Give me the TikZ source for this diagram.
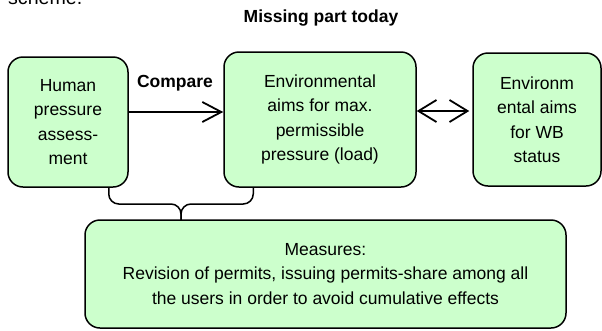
\documentclass[tikz,border=0pt]{standalone}
\usepackage{fontspec}
\setmainfont{Liberation Sans}
\usetikzlibrary{arrows.meta}
\definecolor{boxgreen}{HTML}{CCFFCC}

\begin{document}
\begin{tikzpicture}[x=1pt,y=1pt]
\tikzstyle{every node}+=[inner sep=0pt,font=\fontsize{17.5}{24.5}\selectfont]
\tikzstyle{greenbox}=[draw=black,line width=1.5pt,fill=boxgreen,rounded corners=15pt,align=center]
\tikzstyle{openarrow}=[line width=1.8pt,-{Straight Barb[length=19pt,width=20pt]}]
\useasboundingbox (0,0) rectangle (602,-330);
\node [anchor=base west,font=\fontsize{19.6}{24}\selectfont] (scheme) at (8,-4.5) {scheme.};
\node [font=\fontsize{17.5}{24}\selectfont\bfseries] (missing) at (321,-18) {Missing part today};
\node [greenbox,minimum width=120pt,minimum height=130pt] (hum) at (68,-122) {Human\\pressure\\assess-\\ment};
\node [greenbox,minimum width=192pt,minimum height=135pt] (env) at (320,-119.5) {Environmental\\aims for max.\\permissible\\pressure (load)};
\node [greenbox,minimum width=128pt,minimum height=133pt] (wb) at (537,-119.5) {Environm\\ental aims\\for WB\\status};
\node [greenbox,minimum width=481pt,minimum height=108pt] (meas) at (325.5,-274) {Measures:\\Revision of permits, issuing permits-share among all\\the users in order to avoid cumulative effects};
\draw [openarrow] ([yshift=10pt]hum.east) -- ([yshift=7.5pt]env.west);
\node [font=\fontsize{17.5}{24}\selectfont\bfseries] (compare) at (175,-83) {Compare};
\draw [openarrow,{Straight Barb[length=18pt,width=22pt]}-{Straight Barb[length=18pt,width=22pt]}] ([yshift=8.5pt]env.east) -- ([yshift=8.5pt,xshift=-3pt]wb.west);
\coordinate (tip) at (181,-220);
\draw [line width=1.5pt,rounded corners=10pt] ([xshift=-20pt]hum.south east) |- ([yshift=16pt]tip) -- (tip);
\draw [line width=1.5pt,rounded corners=10pt] ([xshift=30pt]env.south west) |- ([yshift=16pt]tip) -- (tip);
\end{tikzpicture}
\end{document}
